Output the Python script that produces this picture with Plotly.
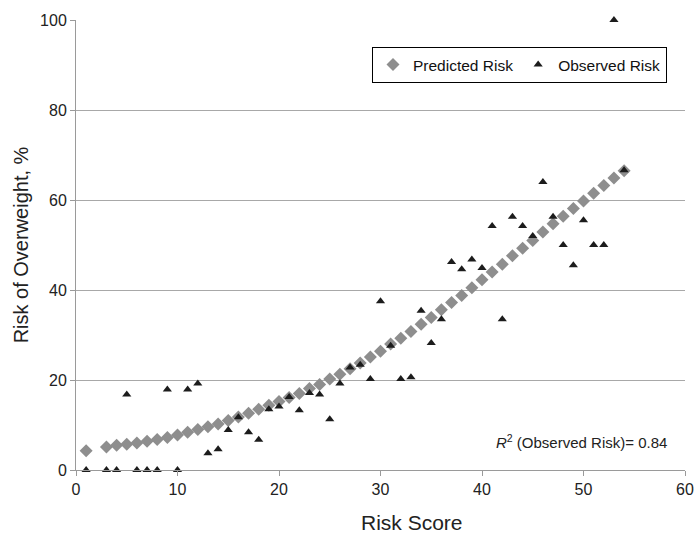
import plotly.graph_objects as go

pred_x = [1] + list(range(3, 55))
pred_y = [4.3, 5.1, 5.5, 5.7, 6.0, 6.4, 6.8, 7.2, 7.8, 8.4, 9.0, 9.6, 10.2, 11.0, 11.8,
          12.6, 13.5, 14.4, 15.2, 16.1, 17.0, 18.1, 19.0, 20.2, 21.3, 22.5, 23.8, 25.1,
          26.4, 28.0, 29.3, 30.8, 32.4, 33.9, 35.6, 37.2, 38.8, 40.5, 42.3, 44.0, 45.7,
          47.6, 49.3, 51.0, 52.9, 54.7, 56.4, 58.1, 59.8, 61.5, 63.2, 64.9, 66.5]

obs_x = [1] + list(range(3, 55))
obs_y = [0, 0, 0, 16.8, 0, 0, 0, 17.9, 0, 17.9, 19.2, 3.7, 4.6, 8.9, 11.7, 8.4, 6.7,
         13.5, 14.1, 16.2, 13.3, 17.1, 16.8, 11.3, 19.2, 22.8, 23.4, 20.2, 37.5, 27.6,
         20.2, 20.6, 35.4, 28.2, 33.5, 46.2, 44.6, 46.8, 44.9, 54.2, 33.5, 56.3, 54.2,
         52.0, 64.0, 56.3, 50.0, 45.5, 55.5, 50.0, 50.0, 100.0, 66.6]

x_ticks = [0, 10, 20, 30, 40, 50, 60]
y_ticks = [0, 20, 40, 60, 80, 100]

fig = go.Figure()
fig.add_trace(go.Scatter(
    x=pred_x, y=pred_y, mode="markers", name="Predicted Risk",
    marker=dict(symbol="diamond", size=10, color="#8e8e8e"),
    cliponaxis=False))
fig.add_trace(go.Scatter(
    x=obs_x, y=obs_y, mode="markers", name="Observed Risk",
    marker=dict(symbol="triangle-up", size=8, color="#1c1c1c"),
    cliponaxis=False))

fig.add_annotation(
    x=58.4, y=6.4, xref="x", yref="y", xanchor="right", yanchor="middle",
    text="<i>R</i><sup>2</sup> (Observed Risk)= 0.84", showarrow=False,
    font=dict(family="Liberation Sans, Arial, sans-serif", size=15, color="#222222"))

tick_font = dict(family="Liberation Sans, Arial, sans-serif", size=16, color="#222222")
title_font = dict(family="Liberation Sans, Arial, sans-serif", size=20, color="#222222")

fig.add_annotation(
    x=0.552, y=-0.117, xref="paper", yref="paper", xanchor="center", yanchor="middle",
    text="Risk Score", showarrow=False,
    font=dict(family="Liberation Sans, Arial, sans-serif", size=21, color="#222222"))

fig.update_layout(
    width=697, height=536,
    margin=dict(l=76, r=12, t=20, b=66),
    paper_bgcolor="white", plot_bgcolor="white",
    showlegend=True,
    legend=dict(
        orientation="h", x=0.486, y=0.94, xanchor="left", yanchor="top",
        bordercolor="#000000", borderwidth=1, bgcolor="white",
        font=dict(family="Liberation Sans, Arial, sans-serif", size=15.5, color="#111111"),
        tracegroupgap=0),
    xaxis=dict(
        range=[0, 60], tickvals=x_ticks, showgrid=False, zeroline=False,
        showline=True, linecolor="#9a9a9a", linewidth=1,
        ticks="outside", ticklen=5, tickcolor="#9a9a9a",
        tickfont=tick_font, automargin=False),
    yaxis=dict(
        range=[0, 100], tickvals=y_ticks, showgrid=True, gridcolor="#a8a8a8", gridwidth=1,
        zeroline=False, showline=True, linecolor="#9a9a9a", linewidth=1,
        ticks="outside", ticklen=5, tickcolor="#9a9a9a",
        tickfont=tick_font, automargin=False,
        title=dict(text="Risk of Overweight, %", standoff=6, font=title_font)),
)

fig.write_html("out.html", config={"displayModeBar": False},
               post_script="document.body.style.margin='0';document.body.style.overflow='hidden';")
